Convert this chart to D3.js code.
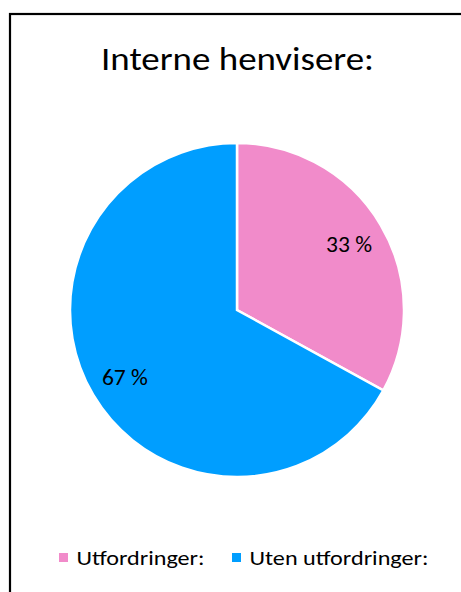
<!DOCTYPE html>
<html>
<head>
<meta charset="utf-8">
<script src="https://cdn.jsdelivr.net/npm/d3@7"></script>
<style>
  html, body { margin: 0; padding: 0; background: #fff; }
  svg { display: block; }
  text { font-family: Carlito, Calibri, Lato, "Open Sans", sans-serif; fill: #000; }
</style>
</head>
<body>
<svg id="chart" width="461" height="592"></svg>
<script>
// Share of internal referrers with and without challenges
const categories = ["Utfordringer:", "Uten utfordringer:"];
const values = [33, 67];
const colors = ["#F18BCA", "#009EFF"];
const title = "Interne henvisere:";

const W = 461, H = 592;
const svg = d3.select("#chart");

// Frame (right and bottom edges run off the canvas)
svg.append("rect")
  .attr("x", 10).attr("y", 14)
  .attr("width", W + 20).attr("height", H + 20)
  .attr("fill", "#fff")
  .attr("stroke", "#000")
  .attr("stroke-width", 2.2);

// Keep the font size (glyph height) and pin the run width
function setWidth(sel, target) {
  sel.attr("textLength", target).attr("lengthAdjust", "spacingAndGlyphs");
}

// Title
const t = svg.append("text")
  .attr("x", 237.5).attr("y", 70)
  .attr("text-anchor", "middle")
  .attr("font-size", 32)
  .text(title);
setWidth(t, 273);

// Pie
const cx = 237, cy = 310, R = 167;
const pie = d3.pie().sort(null).value(d => d);
const arcs = pie(values);
const arc = d3.arc().innerRadius(0).outerRadius(R);
const labelArc = d3.arc().innerRadius(R * 0.78).outerRadius(R * 0.78);

const g = svg.append("g").attr("transform", `translate(${cx},${cy})`);
g.selectAll("path.slice")
  .data(arcs)
  .join("path")
  .attr("class", "slice")
  .attr("d", arc)
  .attr("fill", (d, i) => colors[i])
  .attr("stroke", "#fff")
  .attr("stroke-width", 2.5)
  .attr("stroke-linejoin", "miter");

const fmt = d => `${d} %`;
g.selectAll("text.lbl")
  .data(arcs)
  .join("text")
  .attr("class", "lbl")
  .attr("text-anchor", "middle")
  .attr("font-size", 22)
  .attr("x", d => labelArc.centroid(d)[0])
  .attr("y", d => labelArc.centroid(d)[1] + 8.5)
  .text(d => fmt(d.data))
  .each(function () { setWidth(d3.select(this), 46); });

// Legend
const legendX = [59, 232];
const legendW = [128, 179];
const lg = svg.append("g");
categories.forEach((c, i) => {
  lg.append("rect")
    .attr("x", legendX[i]).attr("y", 553)
    .attr("width", 9).attr("height", 9)
    .attr("fill", colors[i]);
  const lt = lg.append("text")
    .attr("x", legendX[i] + 17.5).attr("y", 565)
    .attr("font-size", 21)
    .text(c);
  setWidth(lt, legendW[i]);
});
</script>
</body>
</html>
